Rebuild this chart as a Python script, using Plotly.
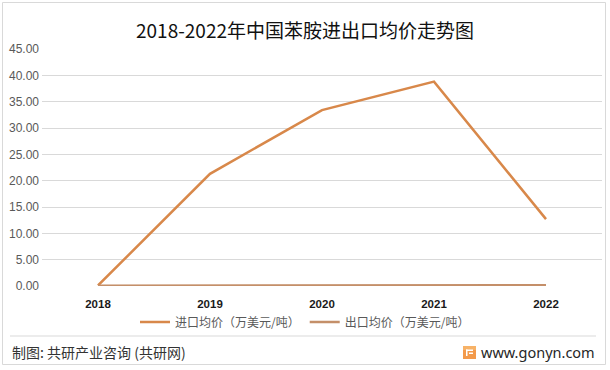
import plotly.graph_objects as go

years = ["2018", "2019", "2020", "2021", "2022"]
import_price = [0.1, 21.3, 33.4, 38.8, 12.7]
export_price = [0.05, 0.06, 0.08, 0.1, 0.15]
series_names = ["进口均价（万美元/吨）", "出口均价（万美元/吨）"]
title_text = "2018-2022年中国苯胺进出口均价走势图"
footer_left = "制图: 共研产业咨询 (共研网)"
footer_right = "www.gonyn.com"

W, H = 610, 370
L, R, T, B = 42, 8, 49, 84
PW, PH = W - L - R, H - T - B

def px(x):
    return (x - L) / PW

def py(y):
    return (H - B - y) / PH

CJK = "Noto Sans CJK SC"

fig = go.Figure()
fig.add_trace(go.Scatter(x=years, y=import_price, mode="lines", name=series_names[0],
                         line=dict(color="#D8884A", width=2.5)))
fig.add_trace(go.Scatter(x=years, y=export_price, mode="lines", name=series_names[1],
                         line=dict(color="#C48F69", width=2.5)))

shapes = [
    # outer border
    dict(type="rect", xref="paper", yref="paper", x0=px(2.5), x1=px(605.5), y0=py(2.5), y1=py(364.5),
         line=dict(color="#D9D9D9", width=1), fillcolor="rgba(0,0,0,0)", layer="below"),
    # footer separator
    dict(type="line", xref="paper", yref="paper", x0=px(10), x1=px(596), y0=py(336), y1=py(336),
         line=dict(color="#D9D9D9", width=1)),
    # logo
    dict(type="rect", xref="paper", yref="paper", x0=px(463), x1=px(476), y0=py(346), y1=py(359),
         line=dict(width=0), fillcolor="#F39A4B"),
    dict(type="rect", xref="paper", yref="paper", x0=px(463), x1=px(476), y0=py(346), y1=py(350),
         line=dict(width=0), fillcolor="#F7B267"),
    dict(type="rect", xref="paper", yref="paper", x0=px(466), x1=px(473), y0=py(349.5), y1=py(351),
         line=dict(width=0), fillcolor="#FFFFFF"),
    dict(type="rect", xref="paper", yref="paper", x0=px(469), x1=px(473), y0=py(352.5), y1=py(354),
         line=dict(width=0), fillcolor="#FFFFFF"),
    dict(type="rect", xref="paper", yref="paper", x0=px(466), x1=px(467.5), y0=py(349.5), y1=py(356),
         line=dict(width=0), fillcolor="#FFFFFF"),
]

annotations = [
    dict(text=footer_left, xref="paper", yref="paper", x=px(10), y=py(352), xanchor="left",
         yanchor="middle", showarrow=False, font=dict(family=CJK, size=14, color="#333333")),
    dict(text=footer_right, xref="paper", yref="paper", x=px(597), y=py(352), xanchor="right",
         yanchor="middle", showarrow=False, font=dict(family="Noto Sans", size=14.5, color="#262626")),
]

fig.update_layout(
    width=W, height=H,
    margin=dict(l=L, r=R, t=T, b=B, pad=0),
    paper_bgcolor="white", plot_bgcolor="white",
    title=dict(text=title_text, x=0.5, xanchor="center", xref="container",
               y=1 - 31 / H, yanchor="middle",
               font=dict(family=CJK, size=19, color="#111111")),
    xaxis=dict(type="category", range=[-0.5, 4.5], showgrid=False, showline=False, zeroline=False,
               ticks="", tickfont=dict(family="Liberation Sans", size=11.5, color="#1a1a1a", weight="bold"),
               ticklabelstandoff=9),
    yaxis=dict(range=[0, 45], dtick=5, tickformat=".2f", showgrid=True, gridcolor="#D9D9D9",
               gridwidth=1, zeroline=False, showline=False, ticks="",
               tickfont=dict(family="Liberation Sans", size=12, color="#595959"),
               ticklabelstandoff=2),
    showlegend=True,
    legend=dict(orientation="h", x=px(305), xanchor="center", y=py(322), yanchor="middle",
                font=dict(family=CJK, size=12, color="#595959"), itemwidth=30,
                bgcolor="rgba(0,0,0,0)", tracegroupgap=0),
    shapes=shapes,
    annotations=annotations,
)

fig.write_html("out.html")
